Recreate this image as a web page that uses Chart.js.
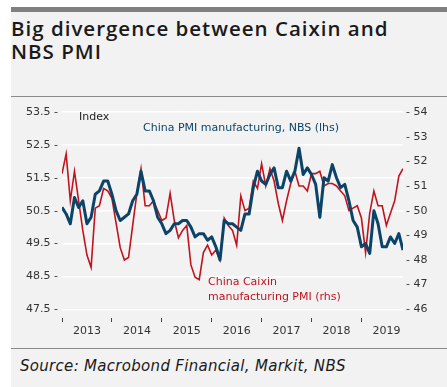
<!DOCTYPE html>
<html>
<head>
<meta charset="utf-8">
<script src="https://cdn.jsdelivr.net/npm/chart.js@4.4.1/dist/chart.umd.min.js"></script>
<style>
  html, body { margin: 0; padding: 0; background: #ffffff; }
  body { width: 447px; height: 387px; position: relative; overflow: hidden; font-family: "DejaVu Sans", sans-serif; }
  #panel { position: absolute; left: 11px; top: 7px; width: 436px; height: 380px; background: #f2f2f2; }
  #topbar { position: absolute; left: 0; top: 0; width: 436px; height: 5px; background: #808080; }
  #title { position: absolute; left: 0px; top: 10px; font-family: "Open Sans", sans-serif; font-weight: 600; font-size: 20.5px; line-height: 23.3px; color: #1a1a1a; letter-spacing: 1.0px; white-space: nowrap; }
  #sep1 { position: absolute; left: 0; top: 89px; width: 436px; height: 1px; background: #8a8a8a; }
  #sep2 { position: absolute; left: 0; top: 341px; width: 436px; height: 1px; background: #8a8a8a; }
  #source { position: absolute; left: 9px; top: 350px; font-size: 15px; font-style: italic; color: #1a1a1a; white-space: nowrap; letter-spacing: 0.3px; }
  #chartbox { position: absolute; left: 0; top: 91px; width: 436px; height: 249px; }
  .ann { position: absolute; font-size: 11px; line-height: 14px; white-space: nowrap; }
</style>
</head>
<body>
<div id="panel">
  <div id="topbar"></div>
  <div id="title">Big divergence between Caixin and<br>NBS PMI</div>
  <div id="sep1"></div>
  <div id="chartbox"><canvas id="c" width="436" height="249"></canvas></div>
  <div class="ann" style="left:68px; top:103px; color:#222;">Index</div>
  <div class="ann" style="left:132px; top:114px; color:#0b4468;">China PMI manufacturing, NBS (lhs)</div>
  <div class="ann" style="left:197px; top:268px; color:#c0141e; line-height:14.5px;">China Caixin<br>manufacturing PMI (rhs)</div>
  <div id="sep2"></div>
  <div id="source">Source: Macrobond Financial, Markit, NBS</div>
</div>
<script>
// Monthly series, Dec 2012 .. Oct 2019
const startYear = 2012, startMonth = 12;
const nbsPMI = [
  50.6,
  50.4, 50.1, 50.9, 50.6, 50.8, 50.1, 50.3, 51.0, 51.1, 51.4, 51.4, 51.0,
  50.5, 50.2, 50.3, 50.4, 50.8, 51.0, 51.7, 51.1, 51.1, 50.8, 50.3, 50.1,
  49.8, 49.9, 50.1, 50.1, 50.2, 50.2, 50.0, 49.7, 49.8, 49.8, 49.6, 49.7,
  49.4, 49.0, 50.2, 50.1, 50.1, 50.0, 49.9, 50.4, 50.4, 51.2, 51.7, 51.4,
  51.3, 51.6, 51.8, 51.2, 51.2, 51.7, 51.4, 51.7, 52.4, 51.6, 51.8, 51.6,
  51.3, 50.3, 51.5, 51.4, 51.9, 51.5, 51.2, 51.3, 50.8, 50.2, 50.0, 49.4,
  49.5, 49.2, 50.5, 50.1, 49.4, 49.4, 49.7, 49.5, 49.8, 49.3
];
const caixinPMI = [
  51.5,
  52.3, 50.4, 51.6, 50.4, 49.2, 48.2, 47.7, 50.1, 50.2, 50.9, 50.8, 50.5,
  49.5, 48.5, 48.0, 48.1, 49.4, 50.7, 51.7, 50.2, 50.2, 50.4, 50.0, 49.6,
  49.7, 50.7, 49.6, 48.9, 49.2, 49.4, 47.8, 47.3, 47.2, 48.3, 48.6, 48.2,
  48.4, 48.0, 49.7, 49.4, 49.2, 48.6, 50.6, 50.0, 50.1, 51.2, 50.9, 51.9,
  51.0, 51.7, 51.2, 50.3, 49.6, 50.4, 51.1, 51.6, 51.0, 51.0, 50.8, 51.5,
  51.5, 51.6, 51.0, 51.1, 51.1, 51.0, 50.8, 50.6, 50.0, 50.1, 50.2, 49.7,
  48.3, 49.9, 50.8, 50.2, 50.2, 49.4, 49.9, 50.4, 51.4, 51.7
];
const yearTicks = [2013, 2014, 2015, 2016, 2017, 2018, 2019];
const leftTicks = [47.5, 48.5, 49.5, 50.5, 51.5, 52.5, 53.5];
const rightTicks = [46, 47, 48, 49, 50, 51, 52, 53, 54];

// point placed at end of its month
const toX = (i) => startYear + (startMonth + i) / 12;
const nbsPts = nbsPMI.map((v, i) => ({ x: toX(i), y: v }));
const caixinPts = caixinPMI.map((v, i) => ({ x: toX(i), y: v }));

const tickFont = { family: "DejaVu Sans", size: 11 };
const tickColor = '#333333';

new Chart(document.getElementById('c'), {
  type: 'line',
  data: {
    datasets: [
      { label: 'China PMI manufacturing, NBS (lhs)', data: nbsPts, yAxisID: 'yL',
        borderColor: '#0b4468', borderWidth: 3, pointRadius: 0, tension: 0, borderJoinStyle: 'round' },
      { label: 'China Caixin manufacturing PMI (rhs)', data: caixinPts, yAxisID: 'yR',
        borderColor: '#c0141e', borderWidth: 1.6, pointRadius: 0, tension: 0 }
    ]
  },
  options: {
    responsive: false,
    animation: false,
    events: [],
    layout: { padding: { top: 14, bottom: 0, left: 0, right: 0 } },
    plugins: { legend: { display: false }, tooltip: { enabled: false } },
    scales: {
      x: {
        type: 'linear', min: 2013, max: 2019 + 10 / 12,
        afterBuildTicks: (ax) => { ax.ticks = yearTicks.map(v => ({ value: v })); },
        afterFit: (ax) => { ax.height = 29; },
        grid: { drawOnChartArea: false, drawTicks: true, tickLength: 4, color: '#444', lineWidth: 1 },
        border: { display: false },
        ticks: { labelOffset: 25, padding: 3, maxRotation: 0, autoSkip: false, color: tickColor, font: tickFont,
                 callback: (v) => String(v) }
      },
      yL: {
        position: 'left', min: 47.5 - 0.265, max: 53.5,
        afterBuildTicks: (ax) => { ax.ticks = leftTicks.map(v => ({ value: v })); },
        afterFit: (ax) => { ax.width = 51; },
        grid: { color: '#ffffff', lineWidth: 1.5, drawTicks: false },
        border: { display: false },
        ticks: { padding: 4, color: tickColor, font: tickFont, callback: (v) => v.toFixed(1) + ' -' }
      },
      yR: {
        position: 'right', min: 46 - 0.353, max: 54,
        afterBuildTicks: (ax) => { ax.ticks = rightTicks.map(v => ({ value: v })); },
        afterFit: (ax) => { ax.width = 44; },
        grid: { drawOnChartArea: false, drawTicks: false },
        border: { display: false },
        ticks: { padding: 3, color: tickColor, font: tickFont, callback: (v) => '- ' + v }
      }
    }
  }
});
</script>
</body>
</html>
